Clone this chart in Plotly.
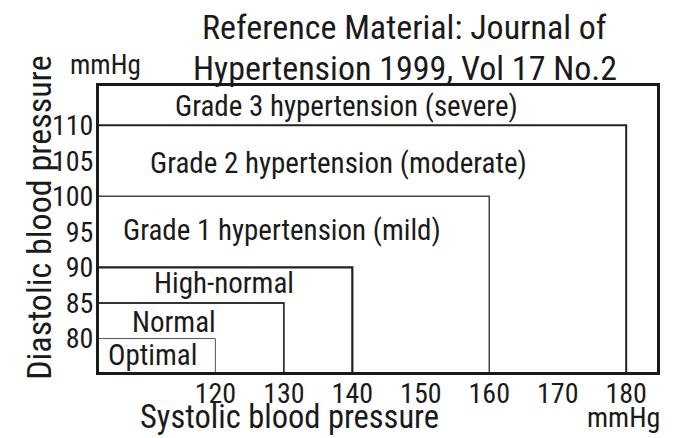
import plotly.graph_objects as go

# Classification thresholds (upper limits of each class)
classes = ["Optimal", "Normal", "High-normal", "Grade 1 hypertension (mild)",
           "Grade 2 hypertension (moderate)", "Grade 3 hypertension (severe)"]
systolic_limits = [120, 130, 140, 160, 180]
diastolic_limits = [80, 85, 90, 100, 110]
x_ticks = [120, 130, 140, 150, 160, 170, 180]
y_ticks = [80, 85, 90, 95, 100, 105, 110]

# layout / styling (not data)
x_range = [103.0, 184.5]
y_range = [75.3, 115.5]
label_pos = [(110.8, 77.7), (113.9, 82.3), (121.3, 87.8), (129.7, 95.2), (138.0, 104.65), (139.2, 112.7)]
line_widths = [1, 1.8, 2.2, 1.5, 2]
line_colors = ["#555", "#333", "#222", "#444", "#222"]

FONT = "Roboto Condensed, Liberation Sans, Arial, sans-serif"
INK = "#1a1a1a"

fig = go.Figure()
for s, d, w, c in zip(systolic_limits, diastolic_limits, line_widths, line_colors):
    fig.add_trace(go.Scatter(
        x=[x_range[0], s, s], y=[d, d, y_range[0]],
        mode="lines", line=dict(color=c, width=w), hoverinfo="skip", showlegend=False))

for name, (lx, ly) in zip(classes, label_pos):
    fig.add_annotation(x=lx, y=ly, text=name, showarrow=False, xanchor="center", yanchor="middle",
                       font=dict(family=FONT, size=29, color=INK))


def paper_text(x, y, text, size, angle=0):
    fig.add_annotation(xref="paper", yref="paper", x=x, y=y, text=text, showarrow=False,
                       xanchor="center", yanchor="middle", textangle=angle,
                       font=dict(family=FONT, size=size, color=INK))


paper_text(0.547, 1.205, "Reference Material: Journal of", 34)
paper_text(0.548, 1.062, "Hypertension 1999, Vol 17 No.2", 34)
paper_text(0.011, 1.072, "mmHg", 27)
paper_text(0.94, -0.16, "mmHg", 28)
paper_text(0.342, -0.158, "Systolic blood pressure", 32.5)
paper_text(-0.108, 0.538, "Diastolic blood pressure", 34, angle=-90)

fig.update_xaxes(range=x_range, tickvals=x_ticks, showgrid=False, zeroline=False,
                 showline=True, linewidth=3, linecolor=INK, mirror=True,
                 ticks="", ticklabelstandoff=-6, tickfont=dict(family=FONT, size=28, color=INK))
fig.update_yaxes(range=y_range, tickvals=y_ticks, showgrid=False, zeroline=False,
                 showline=True, linewidth=3, linecolor=INK, mirror=True,
                 ticks="", ticklabelstandoff=-3, tickfont=dict(family=FONT, size=28, color=INK))
fig.update_layout(width=677, height=438, margin=dict(l=99, r=20, t=86, b=66),
                  plot_bgcolor="white", paper_bgcolor="white")
fig.write_html("out.html", config={"displayModeBar": False},
               post_script="document.body.style.margin='0px';")
